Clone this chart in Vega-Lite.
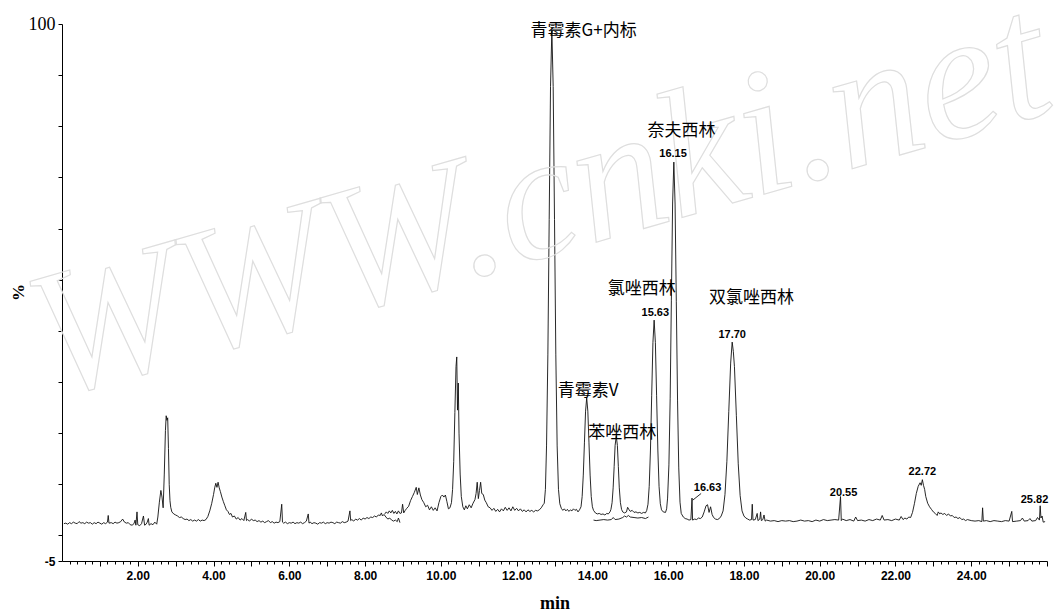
{
  "$schema": "https://vega.github.io/schema/vega-lite/v6.json",
  "width": 985,
  "height": 537,
  "autosize": {"type": "none"},
  "padding": {"left": 62, "top": 24, "right": 8, "bottom": 52},
  "background": "white",
  "config": {"view": {"stroke": null}},
  "datasets": {
    "trace": [
      {"t":0.05,"v":2.3,"s":"a"},{"t":0.1,"v":2.4,"s":"a"},{"t":0.15,"v":2.2,"s":"a"},{"t":0.2,"v":2.5,"s":"a"},{"t":0.25,"v":2.3,"s":"a"},{"t":0.3,"v":2.6,"s":"a"},{"t":0.35,"v":2.4,"s":"a"},{"t":0.4,"v":2.3,"s":"a"},{"t":0.45,"v":2.7,"s":"a"},{"t":0.5,"v":2.4,"s":"a"},
      {"t":0.55,"v":2.5,"s":"a"},{"t":0.6,"v":2.3,"s":"a"},{"t":0.65,"v":2.6,"s":"a"},{"t":0.7,"v":2.4,"s":"a"},{"t":0.75,"v":2.5,"s":"a"},{"t":0.8,"v":2.2,"s":"a"},{"t":0.85,"v":2.5,"s":"a"},{"t":0.9,"v":2.3,"s":"a"},{"t":0.95,"v":2.6,"s":"a"},{"t":1.0,"v":2.4,"s":"a"},
      {"t":1.05,"v":2.2,"s":"a"},{"t":1.1,"v":2.5,"s":"a"},{"t":1.15,"v":2.3,"s":"a"},{"t":1.2,"v":2.6,"s":"a"},{"t":1.22,"v":3.9,"s":"a"},{"t":1.24,"v":2.4,"s":"a"},{"t":1.3,"v":2.5,"s":"a"},{"t":1.35,"v":2.3,"s":"a"},{"t":1.4,"v":2.6,"s":"a"},{"t":1.45,"v":2.4,"s":"a"},
      {"t":1.5,"v":2.5,"s":"a"},{"t":1.55,"v":2.7,"s":"a"},{"t":1.6,"v":3.2,"s":"a"},{"t":1.65,"v":2.6,"s":"a"},{"t":1.7,"v":2.4,"s":"a"},{"t":1.75,"v":2.5,"s":"a"},{"t":1.8,"v":2.1,"s":"a"},{"t":1.85,"v":2.0,"s":"a"},{"t":1.9,"v":2.3,"s":"a"},{"t":1.93,"v":3.0,"s":"a"},
      {"t":1.95,"v":2.0,"s":"a"},{"t":1.98,"v":4.6,"s":"a"},{"t":2.0,"v":2.1,"s":"a"},{"t":2.05,"v":1.9,"s":"a"},{"t":2.1,"v":2.3,"s":"a"},{"t":2.15,"v":3.8,"s":"a"},{"t":2.18,"v":2.0,"s":"a"},{"t":2.22,"v":2.2,"s":"a"},{"t":2.25,"v":2.6,"s":"a"},{"t":2.28,"v":3.3,"s":"a"},
      {"t":2.3,"v":2.0,"s":"a"},{"t":2.35,"v":2.3,"s":"a"},{"t":2.4,"v":2.1,"s":"a"},{"t":2.45,"v":2.6,"s":"a"},{"t":2.5,"v":2.2,"s":"a"},{"t":2.53,"v":3.6,"s":"a"},{"t":2.57,"v":6.5,"s":"a"},{"t":2.61,"v":8.8,"s":"a"},{"t":2.64,"v":7.5,"s":"a"},{"t":2.67,"v":5.4,"s":"a"},
      {"t":2.7,"v":12,"s":"a"},{"t":2.73,"v":20.5,"s":"a"},{"t":2.75,"v":23.4,"s":"a"},{"t":2.77,"v":22.5,"s":"a"},{"t":2.79,"v":23.0,"s":"a"},{"t":2.81,"v":17,"s":"a"},{"t":2.83,"v":10,"s":"a"},{"t":2.85,"v":6.8,"s":"a"},{"t":2.87,"v":5.5,"s":"a"},{"t":2.9,"v":4.6,"s":"a"},
      {"t":2.95,"v":4.2,"s":"a"},{"t":3.0,"v":4.0,"s":"a"},{"t":3.05,"v":3.8,"s":"a"},{"t":3.1,"v":3.5,"s":"a"},{"t":3.15,"v":3.6,"s":"a"},{"t":3.2,"v":3.3,"s":"a"},{"t":3.25,"v":3.1,"s":"a"},{"t":3.3,"v":3.2,"s":"a"},{"t":3.35,"v":2.9,"s":"a"},{"t":3.4,"v":3.1,"s":"a"},
      {"t":3.45,"v":2.8,"s":"a"},{"t":3.5,"v":3.0,"s":"a"},{"t":3.55,"v":2.8,"s":"a"},{"t":3.6,"v":3.1,"s":"a"},{"t":3.65,"v":2.8,"s":"a"},{"t":3.7,"v":3.0,"s":"a"},{"t":3.75,"v":2.9,"s":"a"},{"t":3.8,"v":3.1,"s":"a"},{"t":3.85,"v":3.7,"s":"a"},{"t":3.9,"v":4.8,"s":"a"},
      {"t":3.95,"v":6.2,"s":"a"},{"t":4.0,"v":8.0,"s":"a"},{"t":4.03,"v":9.3,"s":"a"},{"t":4.06,"v":10.2,"s":"a"},{"t":4.09,"v":9.4,"s":"a"},{"t":4.12,"v":10.4,"s":"a"},{"t":4.15,"v":9.3,"s":"a"},{"t":4.18,"v":8.6,"s":"a"},{"t":4.22,"v":7.5,"s":"a"},{"t":4.26,"v":6.6,"s":"a"},
      {"t":4.3,"v":5.8,"s":"a"},{"t":4.34,"v":5.0,"s":"a"},{"t":4.38,"v":4.7,"s":"a"},{"t":4.42,"v":4.1,"s":"a"},{"t":4.46,"v":4.3,"s":"a"},{"t":4.5,"v":3.6,"s":"a"},{"t":4.55,"v":3.8,"s":"a"},{"t":4.6,"v":3.2,"s":"a"},{"t":4.65,"v":3.5,"s":"a"},{"t":4.7,"v":3.0,"s":"a"},
      {"t":4.75,"v":3.3,"s":"a"},{"t":4.8,"v":2.9,"s":"a"},{"t":4.85,"v":4.5,"s":"a"},{"t":4.87,"v":2.9,"s":"a"},{"t":4.9,"v":3.1,"s":"a"},{"t":4.95,"v":2.8,"s":"a"},{"t":5.0,"v":3.2,"s":"a"},{"t":5.05,"v":2.9,"s":"a"},{"t":5.1,"v":3.0,"s":"a"},{"t":5.15,"v":2.7,"s":"a"},
      {"t":5.2,"v":2.9,"s":"a"},{"t":5.25,"v":2.6,"s":"a"},{"t":5.3,"v":2.8,"s":"a"},{"t":5.35,"v":2.5,"s":"a"},{"t":5.4,"v":2.7,"s":"a"},{"t":5.45,"v":2.9,"s":"a"},{"t":5.5,"v":2.5,"s":"a"},{"t":5.55,"v":2.7,"s":"a"},{"t":5.6,"v":2.4,"s":"a"},{"t":5.65,"v":2.6,"s":"a"},
      {"t":5.7,"v":2.5,"s":"a"},{"t":5.75,"v":2.7,"s":"a"},{"t":5.8,"v":6.1,"s":"a"},{"t":5.82,"v":2.6,"s":"a"},{"t":5.85,"v":2.4,"s":"a"},{"t":5.9,"v":2.6,"s":"a"},{"t":5.95,"v":2.3,"s":"a"},{"t":6.0,"v":2.5,"s":"a"},{"t":6.05,"v":2.4,"s":"a"},{"t":6.1,"v":2.6,"s":"a"},
      {"t":6.15,"v":2.3,"s":"a"},{"t":6.2,"v":2.5,"s":"a"},{"t":6.25,"v":2.4,"s":"a"},{"t":6.3,"v":2.6,"s":"a"},{"t":6.35,"v":2.3,"s":"a"},{"t":6.4,"v":2.5,"s":"a"},{"t":6.45,"v":2.8,"s":"a"},{"t":6.5,"v":4.2,"s":"a"},{"t":6.52,"v":2.4,"s":"a"},{"t":6.55,"v":2.6,"s":"a"},
      {"t":6.6,"v":2.3,"s":"a"},{"t":6.65,"v":2.5,"s":"a"},{"t":6.7,"v":2.4,"s":"a"},{"t":6.75,"v":2.2,"s":"a"},{"t":6.8,"v":2.5,"s":"a"},{"t":6.85,"v":2.4,"s":"a"},{"t":6.9,"v":2.6,"s":"a"},{"t":6.95,"v":2.3,"s":"a"},{"t":7.0,"v":2.5,"s":"a"},{"t":7.05,"v":2.4,"s":"a"},
      {"t":7.1,"v":2.6,"s":"a"},{"t":7.15,"v":2.5,"s":"a"},{"t":7.2,"v":2.3,"s":"a"},{"t":7.25,"v":2.6,"s":"a"},{"t":7.3,"v":2.5,"s":"a"},{"t":7.35,"v":2.4,"s":"a"},{"t":7.4,"v":2.7,"s":"a"},{"t":7.45,"v":2.5,"s":"a"},{"t":7.5,"v":2.6,"s":"a"},{"t":7.55,"v":2.8,"s":"a"},
      {"t":7.6,"v":4.8,"s":"a"},{"t":7.62,"v":2.9,"s":"a"},{"t":7.65,"v":3.1,"s":"a"},{"t":7.7,"v":2.8,"s":"a"},{"t":7.75,"v":3.2,"s":"a"},{"t":7.8,"v":3.0,"s":"a"},{"t":7.85,"v":3.3,"s":"a"},{"t":7.9,"v":3.0,"s":"a"},{"t":7.95,"v":3.4,"s":"a"},{"t":8.0,"v":3.2,"s":"a"},
      {"t":8.05,"v":3.5,"s":"a"},{"t":8.1,"v":3.3,"s":"a"},{"t":8.15,"v":3.6,"s":"a"},{"t":8.2,"v":3.5,"s":"a"},{"t":8.25,"v":3.8,"s":"a"},{"t":8.3,"v":3.6,"s":"a"},{"t":8.35,"v":4.0,"s":"a"},{"t":8.4,"v":3.9,"s":"a"},{"t":8.43,"v":4.4,"s":"a"},{"t":8.46,"v":3.8,"s":"a"},
      {"t":8.5,"v":4.1,"s":"a"},{"t":8.55,"v":3.6,"s":"a"},{"t":8.6,"v":3.2,"s":"a"},{"t":8.65,"v":3.4,"s":"a"},{"t":8.7,"v":3.0,"s":"a"},{"t":8.75,"v":2.8,"s":"a"},{"t":8.8,"v":3.0,"s":"a"},{"t":8.85,"v":2.7,"s":"a"},{"t":8.88,"v":3.4,"s":"a"},{"t":8.9,"v":3.0,"s":"a"},
      {"t":8.92,"v":2.5,"s":"a"},
      {"t":8.52,"v":4.2,"s":"b"},{"t":8.56,"v":4.6,"s":"b"},{"t":8.6,"v":4.3,"s":"b"},{"t":8.64,"v":4.8,"s":"b"},{"t":8.68,"v":4.4,"s":"b"},{"t":8.72,"v":4.9,"s":"b"},{"t":8.76,"v":4.3,"s":"b"},{"t":8.8,"v":4.7,"s":"b"},{"t":8.84,"v":4.2,"s":"b"},{"t":8.88,"v":4.8,"s":"b"},
      {"t":8.92,"v":4.3,"s":"b"},{"t":8.96,"v":4.4,"s":"b"},{"t":8.99,"v":6.1,"s":"b"},{"t":9.02,"v":4.4,"s":"b"},{"t":9.06,"v":4.9,"s":"b"},{"t":9.1,"v":5.3,"s":"b"},{"t":9.15,"v":5.7,"s":"b"},{"t":9.2,"v":6.8,"s":"b"},{"t":9.25,"v":7.6,"s":"b"},{"t":9.3,"v":8.4,"s":"b"},
      {"t":9.35,"v":9.4,"s":"b"},{"t":9.38,"v":8.0,"s":"b"},{"t":9.42,"v":9.3,"s":"b"},{"t":9.46,"v":7.9,"s":"b"},{"t":9.5,"v":7.0,"s":"b"},{"t":9.55,"v":6.4,"s":"b"},{"t":9.6,"v":5.6,"s":"b"},{"t":9.65,"v":5.9,"s":"b"},{"t":9.7,"v":5.0,"s":"b"},{"t":9.75,"v":5.6,"s":"b"},
      {"t":9.8,"v":4.9,"s":"b"},{"t":9.85,"v":5.4,"s":"b"},{"t":9.9,"v":4.8,"s":"b"},{"t":9.95,"v":6.4,"s":"b"},{"t":10.0,"v":7.6,"s":"b"},{"t":10.04,"v":7.9,"s":"b"},{"t":10.08,"v":7.5,"s":"b"},{"t":10.12,"v":7.9,"s":"b"},{"t":10.16,"v":6.6,"s":"b"},{"t":10.2,"v":5.2,"s":"b"},
      {"t":10.24,"v":5.4,"s":"b"},{"t":10.28,"v":6.4,"s":"b"},{"t":10.31,"v":9.0,"s":"b"},{"t":10.34,"v":14.5,"s":"b"},{"t":10.37,"v":24,"s":"b"},{"t":10.4,"v":33,"s":"b"},{"t":10.42,"v":34.9,"s":"b"},{"t":10.44,"v":24.5,"s":"b"},{"t":10.46,"v":29.8,"s":"b"},{"t":10.48,"v":20,"s":"b"},
      {"t":10.51,"v":12,"s":"b"},{"t":10.54,"v":7.6,"s":"b"},{"t":10.58,"v":5.6,"s":"b"},{"t":10.62,"v":5.0,"s":"b"},{"t":10.66,"v":5.8,"s":"b"},{"t":10.7,"v":5.2,"s":"b"},{"t":10.75,"v":6.0,"s":"b"},{"t":10.8,"v":5.4,"s":"b"},{"t":10.85,"v":6.3,"s":"b"},{"t":10.9,"v":7.0,"s":"b"},
      {"t":10.93,"v":8.2,"s":"b"},{"t":10.96,"v":10.4,"s":"b"},{"t":10.99,"v":7.2,"s":"b"},{"t":11.02,"v":8.8,"s":"b"},{"t":11.05,"v":10.4,"s":"b"},{"t":11.08,"v":8.2,"s":"b"},{"t":11.12,"v":8.0,"s":"b"},{"t":11.16,"v":6.9,"s":"b"},{"t":11.2,"v":6.4,"s":"b"},{"t":11.25,"v":5.6,"s":"b"},
      {"t":11.3,"v":5.4,"s":"b"},{"t":11.35,"v":4.9,"s":"b"},{"t":11.4,"v":5.3,"s":"b"},{"t":11.45,"v":4.7,"s":"b"},{"t":11.5,"v":5.1,"s":"b"},{"t":11.55,"v":4.6,"s":"b"},{"t":11.6,"v":5.2,"s":"b"},{"t":11.65,"v":4.8,"s":"b"},{"t":11.7,"v":5.5,"s":"b"},{"t":11.75,"v":4.9,"s":"b"},
      {"t":11.8,"v":5.4,"s":"b"},{"t":11.85,"v":4.8,"s":"b"},{"t":11.9,"v":5.6,"s":"b"},{"t":11.95,"v":4.9,"s":"b"},{"t":12.0,"v":5.3,"s":"b"},{"t":12.05,"v":4.8,"s":"b"},{"t":12.1,"v":5.2,"s":"b"},{"t":12.15,"v":4.7,"s":"b"},{"t":12.2,"v":5.0,"s":"b"},{"t":12.25,"v":4.6,"s":"b"},
      {"t":12.3,"v":5.0,"s":"b"},{"t":12.35,"v":4.7,"s":"b"},{"t":12.4,"v":4.9,"s":"b"},{"t":12.45,"v":4.6,"s":"b"},{"t":12.5,"v":4.9,"s":"b"},{"t":12.55,"v":4.8,"s":"b"},{"t":12.6,"v":5.0,"s":"b"},{"t":12.65,"v":5.4,"s":"b"},{"t":12.7,"v":6.0,"s":"b"},{"t":12.73,"v":6.3,"s":"b"},
      {"t":12.76,"v":9.0,"s":"b"},{"t":12.79,"v":17.5,"s":"b"},{"t":12.825,"v":35.3,"s":"b"},{"t":12.86,"v":61.8,"s":"b"},{"t":12.895,"v":87.8,"s":"b"},{"t":12.93,"v":98.8,"s":"b"},{"t":12.965,"v":87.8,"s":"b"},{"t":13.0,"v":61.8,"s":"b"},{"t":13.035,"v":35.3,"s":"b"},{"t":13.07,"v":17.5,"s":"b"},
      {"t":13.105,"v":9.0,"s":"b"},{"t":13.14,"v":6.2,"s":"b"},{"t":13.18,"v":5.3,"s":"b"},{"t":13.22,"v":4.9,"s":"b"},{"t":13.26,"v":5.2,"s":"b"},{"t":13.3,"v":4.8,"s":"b"},{"t":13.34,"v":5.1,"s":"b"},{"t":13.38,"v":4.7,"s":"b"},{"t":13.42,"v":5.0,"s":"b"},{"t":13.46,"v":4.8,"s":"b"},
      {"t":13.5,"v":5.2,"s":"b"},{"t":13.54,"v":4.9,"s":"b"},{"t":13.58,"v":5.1,"s":"b"},{"t":13.62,"v":4.6,"s":"b"},{"t":13.66,"v":5.0,"s":"b"},{"t":13.7,"v":5.6,"s":"b"},{"t":13.73,"v":7.6,"s":"b"},{"t":13.76,"v":11.8,"s":"b"},{"t":13.79,"v":18.1,"s":"b"},{"t":13.82,"v":24.3,"s":"b"},
      {"t":13.85,"v":26.9,"s":"b"},{"t":13.88,"v":24.3,"s":"b"},{"t":13.91,"v":18.1,"s":"b"},{"t":13.94,"v":11.8,"s":"b"},{"t":13.97,"v":7.6,"s":"b"},{"t":14.0,"v":5.6,"s":"b"},{"t":14.03,"v":4.9,"s":"b"},{"t":14.08,"v":4.4,"s":"b"},{"t":14.13,"v":4.2,"s":"b"},{"t":14.18,"v":4.3,"s":"b"},
      {"t":14.23,"v":4.1,"s":"b"},{"t":14.28,"v":4.2,"s":"b"},{"t":14.33,"v":4.0,"s":"b"},{"t":14.38,"v":4.3,"s":"b"},{"t":14.42,"v":4.2,"s":"b"},{"t":14.465,"v":4.6,"s":"b"},{"t":14.49,"v":5.1,"s":"b"},{"t":14.52,"v":6.4,"s":"b"},{"t":14.548,"v":9.3,"s":"b"},{"t":14.575,"v":13.5,"s":"b"},
      {"t":14.6,"v":17.6,"s":"b"},{"t":14.63,"v":19.4,"s":"b"},{"t":14.66,"v":17.6,"s":"b"},{"t":14.685,"v":13.5,"s":"b"},{"t":14.71,"v":9.3,"s":"b"},{"t":14.74,"v":6.4,"s":"b"},{"t":14.77,"v":5.1,"s":"b"},{"t":14.8,"v":4.6,"s":"b"},{"t":14.85,"v":4.4,"s":"b"},{"t":14.9,"v":4.6,"s":"b"},
      {"t":14.93,"v":5.5,"s":"b"},{"t":14.97,"v":5.0,"s":"b"},{"t":15.0,"v":4.7,"s":"b"},{"t":15.05,"v":4.9,"s":"b"},{"t":15.1,"v":4.5,"s":"b"},{"t":15.15,"v":4.6,"s":"b"},{"t":15.2,"v":4.4,"s":"b"},{"t":15.25,"v":4.5,"s":"b"},{"t":15.3,"v":4.3,"s":"b"},{"t":15.35,"v":4.5,"s":"b"},
      {"t":15.4,"v":4.4,"s":"b"},{"t":15.435,"v":4.9,"s":"b"},{"t":15.468,"v":6.1,"s":"b"},{"t":15.5,"v":9.6,"s":"b"},{"t":15.533,"v":16.7,"s":"b"},{"t":15.565,"v":27.3,"s":"b"},{"t":15.598,"v":37.7,"s":"b"},{"t":15.63,"v":42.1,"s":"b"},{"t":15.663,"v":37.7,"s":"b"},{"t":15.695,"v":27.3,"s":"b"},
      {"t":15.728,"v":16.7,"s":"b"},{"t":15.76,"v":9.6,"s":"b"},{"t":15.793,"v":6.2,"s":"b"},{"t":15.825,"v":5.0,"s":"b"},{"t":15.87,"v":4.6,"s":"b"},{"t":15.93,"v":4.5,"s":"b"},{"t":15.96,"v":5.2,"s":"b"},{"t":15.985,"v":7.3,"s":"b"},{"t":16.02,"v":13.8,"s":"b"},{"t":16.053,"v":26.7,"s":"b"},
      {"t":16.085,"v":46,"s":"b"},{"t":16.118,"v":65,"s":"b"},{"t":16.15,"v":73.0,"s":"b"},{"t":16.183,"v":64.8,"s":"b"},{"t":16.215,"v":45.8,"s":"b"},{"t":16.248,"v":26.3,"s":"b"},{"t":16.28,"v":13.2,"s":"b"},{"t":16.313,"v":6.5,"s":"b"},{"t":16.345,"v":4.3,"s":"b"},{"t":16.4,"v":3.6,"s":"b"},
      {"t":16.45,"v":3.3,"s":"b"},{"t":16.5,"v":3.2,"s":"b"},{"t":16.55,"v":3.0,"s":"b"},{"t":16.6,"v":3.1,"s":"b"},{"t":16.63,"v":7.3,"s":"b"},{"t":16.645,"v":3.0,"s":"b"},{"t":16.7,"v":3.2,"s":"b"},{"t":16.75,"v":3.1,"s":"b"},{"t":16.8,"v":3.4,"s":"b"},{"t":16.85,"v":3.3,"s":"b"},
      {"t":16.9,"v":3.6,"s":"b"},{"t":16.95,"v":4.6,"s":"b"},{"t":17.0,"v":5.8,"s":"b"},{"t":17.04,"v":6.0,"s":"b"},{"t":17.08,"v":4.5,"s":"b"},{"t":17.12,"v":5.6,"s":"b"},{"t":17.16,"v":4.1,"s":"b"},{"t":17.2,"v":3.5,"s":"b"},{"t":17.25,"v":3.2,"s":"b"},{"t":17.3,"v":3.1,"s":"b"},
      {"t":17.35,"v":3.3,"s":"b"},{"t":17.4,"v":3.8,"s":"b"},{"t":17.45,"v":4.8,"s":"b"},{"t":17.5,"v":8.0,"s":"b"},{"t":17.55,"v":14.5,"s":"b"},{"t":17.6,"v":24.2,"s":"b"},{"t":17.65,"v":33.7,"s":"b"},{"t":17.69,"v":37.8,"s":"b"},{"t":17.72,"v":36.0,"s":"b"},{"t":17.75,"v":33.0,"s":"b"},
      {"t":17.8,"v":23.5,"s":"b"},{"t":17.85,"v":14.0,"s":"b"},{"t":17.9,"v":7.8,"s":"b"},{"t":17.95,"v":4.8,"s":"b"},{"t":18.0,"v":3.8,"s":"b"},{"t":18.05,"v":3.4,"s":"b"},{"t":18.1,"v":3.2,"s":"b"},{"t":18.15,"v":3.0,"s":"b"},{"t":18.2,"v":3.1,"s":"b"},{"t":18.22,"v":6.1,"s":"b"},
      {"t":18.24,"v":3.0,"s":"b"},{"t":18.3,"v":3.1,"s":"b"},{"t":18.35,"v":4.3,"s":"b"},{"t":18.37,"v":2.9,"s":"b"},{"t":18.42,"v":3.2,"s":"b"},{"t":18.44,"v":4.6,"s":"b"},{"t":18.46,"v":2.9,"s":"b"},{"t":18.5,"v":3.1,"s":"b"},{"t":18.53,"v":4.0,"s":"b"},{"t":18.56,"v":2.8,"s":"b"},
      {"t":18.6,"v":3.0,"s":"b"},{"t":18.7,"v":2.8,"s":"b"},{"t":18.8,"v":2.9,"s":"b"},{"t":18.9,"v":2.7,"s":"b"},{"t":19.0,"v":2.9,"s":"b"},{"t":19.1,"v":2.8,"s":"b"},{"t":19.2,"v":2.9,"s":"b"},{"t":19.3,"v":2.7,"s":"b"},{"t":19.4,"v":2.8,"s":"b"},{"t":19.5,"v":3.0,"s":"b"},
      {"t":19.6,"v":2.8,"s":"b"},{"t":19.7,"v":2.9,"s":"b"},{"t":19.8,"v":2.7,"s":"b"},{"t":19.9,"v":3.0,"s":"b"},{"t":20.0,"v":2.8,"s":"b"},{"t":20.1,"v":3.1,"s":"b"},{"t":20.2,"v":2.9,"s":"b"},{"t":20.3,"v":3.0,"s":"b"},{"t":20.4,"v":3.1,"s":"b"},{"t":20.5,"v":3.0,"s":"b"},
      {"t":20.55,"v":7.6,"s":"b"},{"t":20.57,"v":2.9,"s":"b"},{"t":20.6,"v":3.2,"s":"b"},{"t":20.7,"v":2.9,"s":"b"},{"t":20.8,"v":3.1,"s":"b"},{"t":20.9,"v":2.8,"s":"b"},{"t":20.95,"v":3.6,"s":"b"},{"t":21.0,"v":2.9,"s":"b"},{"t":21.1,"v":3.0,"s":"b"},{"t":21.2,"v":2.8,"s":"b"},
      {"t":21.3,"v":3.1,"s":"b"},{"t":21.4,"v":2.9,"s":"b"},{"t":21.5,"v":3.2,"s":"b"},{"t":21.6,"v":3.0,"s":"b"},{"t":21.65,"v":3.9,"s":"b"},{"t":21.7,"v":3.0,"s":"b"},{"t":21.8,"v":3.1,"s":"b"},{"t":21.9,"v":2.9,"s":"b"},{"t":22.0,"v":3.2,"s":"b"},{"t":22.1,"v":3.0,"s":"b"},
      {"t":22.15,"v":3.7,"s":"b"},{"t":22.2,"v":3.1,"s":"b"},{"t":22.25,"v":3.4,"s":"b"},{"t":22.3,"v":3.2,"s":"b"},{"t":22.35,"v":3.6,"s":"b"},{"t":22.4,"v":3.5,"s":"b"},{"t":22.45,"v":4.5,"s":"b"},{"t":22.5,"v":6.2,"s":"b"},{"t":22.55,"v":8.2,"s":"b"},{"t":22.6,"v":9.6,"s":"b"},
      {"t":22.65,"v":10.3,"s":"b"},{"t":22.68,"v":9.8,"s":"b"},{"t":22.71,"v":10.9,"s":"b"},{"t":22.74,"v":9.8,"s":"b"},{"t":22.77,"v":9.0,"s":"b"},{"t":22.8,"v":7.6,"s":"b"},{"t":22.85,"v":6.3,"s":"b"},{"t":22.9,"v":5.6,"s":"b"},{"t":22.95,"v":5.1,"s":"b"},{"t":23.0,"v":4.6,"s":"b"},
      {"t":23.05,"v":4.3,"s":"b"},{"t":23.1,"v":3.9,"s":"b"},{"t":23.13,"v":4.6,"s":"b"},{"t":23.17,"v":4.2,"s":"b"},{"t":23.2,"v":4.4,"s":"b"},{"t":23.25,"v":4.1,"s":"b"},{"t":23.3,"v":4.3,"s":"b"},{"t":23.35,"v":3.9,"s":"b"},{"t":23.4,"v":4.2,"s":"b"},{"t":23.45,"v":3.8,"s":"b"},
      {"t":23.5,"v":3.9,"s":"b"},{"t":23.55,"v":3.5,"s":"b"},{"t":23.6,"v":3.6,"s":"b"},{"t":23.65,"v":3.3,"s":"b"},{"t":23.7,"v":3.5,"s":"b"},{"t":23.75,"v":3.1,"s":"b"},{"t":23.8,"v":3.2,"s":"b"},{"t":23.85,"v":2.9,"s":"b"},{"t":23.9,"v":3.1,"s":"b"},{"t":24.0,"v":2.9,"s":"b"},
      {"t":24.1,"v":2.8,"s":"b"},{"t":24.2,"v":2.9,"s":"b"},{"t":24.28,"v":2.7,"s":"b"},{"t":24.3,"v":5.4,"s":"b"},{"t":24.32,"v":2.8,"s":"b"},{"t":24.4,"v":2.9,"s":"b"},{"t":24.5,"v":2.7,"s":"b"},{"t":24.6,"v":2.9,"s":"b"},{"t":24.7,"v":2.8,"s":"b"},{"t":24.8,"v":2.7,"s":"b"},
      {"t":24.9,"v":2.9,"s":"b"},{"t":25.0,"v":2.8,"s":"b"},{"t":25.07,"v":4.7,"s":"b"},{"t":25.09,"v":2.7,"s":"b"},{"t":25.2,"v":2.8,"s":"b"},{"t":25.3,"v":2.9,"s":"b"},{"t":25.35,"v":3.4,"s":"b"},{"t":25.4,"v":2.8,"s":"b"},{"t":25.5,"v":2.9,"s":"b"},{"t":25.55,"v":3.3,"s":"b"},
      {"t":25.6,"v":2.8,"s":"b"},{"t":25.7,"v":2.9,"s":"b"},{"t":25.75,"v":3.5,"s":"b"},{"t":25.8,"v":3.0,"s":"b"},{"t":25.82,"v":5.8,"s":"b"},{"t":25.84,"v":3.4,"s":"b"},{"t":25.87,"v":3.8,"s":"b"},{"t":25.9,"v":2.6,"s":"b"},{"t":25.95,"v":2.7,"s":"b"},
      {"t":14.03,"v":3.0,"s":"c"},{"t":14.1,"v":2.9,"s":"c"},{"t":14.2,"v":3.0,"s":"c"},{"t":14.3,"v":3.1,"s":"c"},{"t":14.4,"v":3.0,"s":"c"},{"t":14.5,"v":3.1,"s":"c"},{"t":14.55,"v":3.5,"s":"c"},{"t":14.6,"v":3.1,"s":"c"},{"t":14.7,"v":3.2,"s":"c"},{"t":14.8,"v":3.5,"s":"c"},
      {"t":14.85,"v":3.8,"s":"c"},{"t":14.9,"v":3.6,"s":"c"},{"t":14.95,"v":3.9,"s":"c"},{"t":15.0,"v":3.6,"s":"c"},{"t":15.1,"v":3.5,"s":"c"},{"t":15.2,"v":3.4,"s":"c"},{"t":15.3,"v":3.5,"s":"c"},{"t":15.4,"v":3.3,"s":"c"},{"t":15.48,"v":3.6,"s":"c"}
    ],
    "names": [
      {"t":13.77,"v":98.6,"txt":"青霉素G+内标"},
      {"t":16.35,"v":79.1,"txt":"奈夫西林"},
      {"t":15.3,"v":48.2,"txt":"氯唑西林"},
      {"t":18.2,"v":46.4,"txt":"双氯唑西林"},
      {"t":13.89,"v":28.2,"txt":"青霉素V"},
      {"t":14.79,"v":20.0,"txt":"苯唑西林"}
    ],
    "times": [
      {"t":16.13,"v":74.6,"txt":"16.15"},
      {"t":15.66,"v":43.5,"txt":"15.63"},
      {"t":17.69,"v":39.2,"txt":"17.70"},
      {"t":17.04,"v":9.3,"txt":"16.63"},
      {"t":20.63,"v":8.3,"txt":"20.55"},
      {"t":22.71,"v":12.4,"txt":"22.72"},
      {"t":25.67,"v":6.9,"txt":"25.82"}
    ],
    "leader": [
      {"t":16.65,"v":6.9,"t2":16.87,"v2":8.2}
    ],
    "watermark": [
      {"t":13.0,"v":55.0,"txt":"WWW.cnki.net"}
    ]
  },
  "layer": [
    {
      "data": {"name": "trace"},
      "mark": {"type": "line", "color": "#111111", "strokeWidth": 0.9, "interpolate": "linear"},
      "encoding": {
        "x": {
          "field": "t", "type": "quantitative",
          "scale": {"domain": [0, 26], "nice": false, "zero": false},
          "axis": {
            "title": "min",
            "titleFont": "Liberation Serif", "titleFontSize": 18, "titleFontWeight": "bold", "titleColor": "#000000",
            "titleY": 42, "titleBaseline": "middle",
            "grid": false,
            "domainColor": "#000000", "domainWidth": 1,
            "tickColor": "#000000", "tickWidth": 1,
            "tickSize": {"condition": {"test": "datum.value % 1 == 0", "value": 5}, "value": 3},
            "tickCount": 300,
            "values": [0.2,0.4,0.6,0.8,1,1.2,1.4,1.6,1.8,2,2.2,2.4,2.6,2.8,3,3.2,3.4,3.6,3.8,4,4.2,4.4,4.6,4.8,5,5.2,5.4,5.6,5.8,6,6.2,6.4,6.6,6.8,7,7.2,7.4,7.6,7.8,8,8.2,8.4,8.6,8.8,9,9.2,9.4,9.6,9.8,10,10.2,10.4,10.6,10.8,11,11.2,11.4,11.6,11.8,12,12.2,12.4,12.6,12.8,13,13.2,13.4,13.6,13.8,14,14.2,14.4,14.6,14.8,15,15.2,15.4,15.6,15.8,16,16.2,16.4,16.6,16.8,17,17.2,17.4,17.6,17.8,18,18.2,18.4,18.6,18.8,19,19.2,19.4,19.6,19.8,20,20.2,20.4,20.6,20.8,21,21.2,21.4,21.6,21.8,22,22.2,22.4,22.6,22.8,23,23.2,23.4,23.6,23.8,24,24.2,24.4,24.6,24.8,25,25.2,25.4,25.6,25.8,26],
            "labelExpr": "datum.value % 2 == 0 && datum.value < 26 ? format(datum.value, '.2f') : ''",
            "labelFont": "Liberation Sans", "labelFontSize": 12, "labelFontWeight": "bold", "labelColor": "#000000",
            "labelPadding": 4, "labelOverlap": false, "labelFlush": false
          }
        },
        "y": {
          "field": "v", "type": "quantitative",
          "scale": {"domain": [-5, 100], "nice": false, "zero": false},
          "axis": {
            "title": "%",
            "titleFont": "Liberation Serif", "titleFontSize": 17, "titleFontWeight": "bold", "titleColor": "#000000",
            "titleX": -44, "titleY": 268, "titleAngle": -90, "titleAlign": "center", "titleBaseline": "middle",
            "grid": false,
            "domainColor": "#000000", "domainWidth": 1,
            "tickColor": "#000000", "tickWidth": 1, "tickSize": 4,
            "tickCount": 50,
            "values": [100, 90, 80, 70, 60, 50, 40, 30, 20, 10, 0, -5],
            "labelExpr": "datum.value == 100 ? '100' : (datum.value == -5 ? '-5' : '')",
            "labelFont": {"condition": {"test": "datum.value == 100", "value": "Liberation Serif"}, "value": "Liberation Sans"},
            "labelFontSize": {"condition": {"test": "datum.value == 100", "value": 18}, "value": 12},
            "labelFontWeight": {"condition": {"test": "datum.value == 100", "value": "normal"}, "value": "bold"},
            "labelColor": "#000000", "labelPadding": 3, "labelOverlap": false, "labelFlush": false
          }
        },
        "detail": {"field": "s", "type": "nominal"}
      }
    },
    {
      "data": {"name": "watermark"},
      "mark": {"type": "text", "font": "Liberation Serif", "fontStyle": "italic", "fontSize": 181, "angle": -16, "align": "center", "baseline": "alphabetic", "fill": "transparent", "stroke": "#dedede", "strokeWidth": 1.2},
      "encoding": {
        "x": {"field": "t", "type": "quantitative"},
        "y": {"field": "v", "type": "quantitative"},
        "text": {"field": "txt"}
      }
    },
    {
      "data": {"name": "leader"},
      "mark": {"type": "rule", "color": "#111111", "strokeWidth": 0.9},
      "encoding": {
        "x": {"field": "t", "type": "quantitative"},
        "x2": {"field": "t2"},
        "y": {"field": "v", "type": "quantitative"},
        "y2": {"field": "v2"}
      }
    },
    {
      "data": {"name": "names"},
      "mark": {"type": "text", "font": "Noto Sans CJK SC", "fontSize": 17, "align": "center", "baseline": "middle", "color": "#000000"},
      "encoding": {
        "x": {"field": "t", "type": "quantitative"},
        "y": {"field": "v", "type": "quantitative"},
        "text": {"field": "txt"}
      }
    },
    {
      "data": {"name": "times"},
      "mark": {"type": "text", "font": "Liberation Sans", "fontSize": 11, "fontWeight": "bold", "align": "center", "baseline": "middle", "color": "#000000"},
      "encoding": {
        "x": {"field": "t", "type": "quantitative"},
        "y": {"field": "v", "type": "quantitative"},
        "text": {"field": "txt"}
      }
    }
  ]
}
